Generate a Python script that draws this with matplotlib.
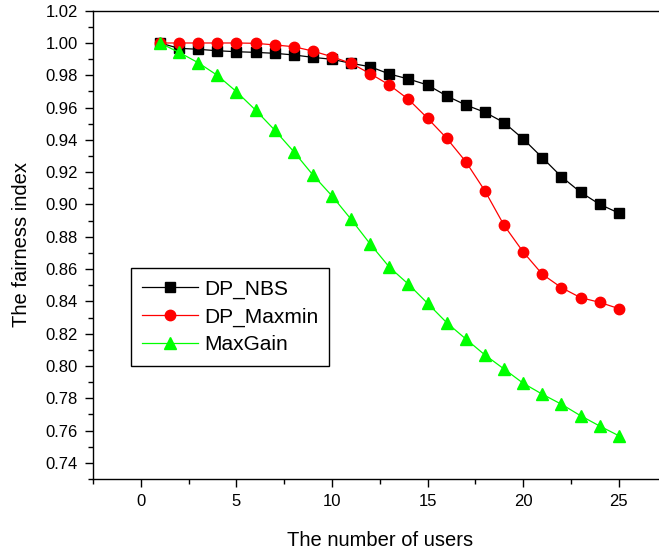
import matplotlib
matplotlib.use("Agg")
from matplotlib import pyplot as plt
from matplotlib.ticker import MultipleLocator

plt.rcParams['font.family'] = ['Liberation Sans', 'DejaVu Sans']

users = list(range(1, 26))
dp_nbs = [1.000, 0.9967, 0.9961, 0.9952, 0.9946, 0.9942, 0.9936, 0.9926, 0.9911, 0.9899,
          0.9874, 0.9853, 0.9808, 0.9777, 0.9740, 0.9672, 0.9616, 0.9571, 0.9507, 0.9406,
          0.9290, 0.9172, 0.9076, 0.9001, 0.8947]
dp_maxmin = [1.000, 1.000, 1.000, 1.000, 1.000, 0.9998, 0.9988, 0.9977, 0.9950, 0.9915,
             0.9874, 0.9810, 0.9740, 0.9651, 0.9534, 0.9410, 0.9265, 0.9084, 0.8871, 0.8706,
             0.8568, 0.8485, 0.8423, 0.8394, 0.8355]
max_gain = [1.000, 0.9942, 0.9878, 0.9800, 0.9699, 0.9585, 0.9461, 0.9327, 0.9183, 0.9053,
            0.8908, 0.8755, 0.8612, 0.8506, 0.8388, 0.8268, 0.8167, 0.8068, 0.7981, 0.7893,
            0.7825, 0.7763, 0.7692, 0.7628, 0.7568]

fig = plt.figure(figsize=(6.59, 5.54), dpi=100)
ax = fig.add_axes([0.1411, 0.1354, 0.8704, 0.8453])

ax.plot(users, dp_nbs, '-', color='black', lw=0.9, marker='s', ms=7, mec='black', label='DP_NBS')
ax.plot(users, dp_maxmin, '-', color='red', lw=0.9, marker='o', ms=7.5, mec='red', label='DP_Maxmin')
ax.plot(users, max_gain, '-', color='#00ff00', lw=0.9, marker='^', ms=8.5, mec='#00ff00', label='MaxGain')

ax.set_xlim(-2.5, 27.5)
ax.set_ylim(0.73, 1.02)
ax.xaxis.set_major_locator(MultipleLocator(5))
ax.xaxis.set_minor_locator(MultipleLocator(2.5))
ax.yaxis.set_major_locator(MultipleLocator(0.02))
ax.yaxis.set_minor_locator(MultipleLocator(0.01))
ax.yaxis.set_major_formatter(matplotlib.ticker.FormatStrFormatter('%.2f'))

for s in ax.spines.values():
    s.set_linewidth(1.0)
ax.tick_params(which='major', direction='out', length=6, width=1, labelsize=12, pad=5)
ax.tick_params(which='minor', direction='out', length=3.5, width=1)

ax.set_xlabel('The number of users', fontsize=14.5, labelpad=15.5)
ax.set_ylabel('The fairness index', fontsize=14.5, labelpad=10.5)

leg = ax.legend(loc='upper left', bbox_to_anchor=(0.066, 0.4506), borderaxespad=0,
                fontsize=15, fancybox=False, edgecolor='black', framealpha=1,
                handlelength=2.65, handletextpad=0.3, labelspacing=0.42, borderpad=0.55)
leg.get_frame().set_linewidth(1.0)

fig.savefig('out.png', dpi=100)
